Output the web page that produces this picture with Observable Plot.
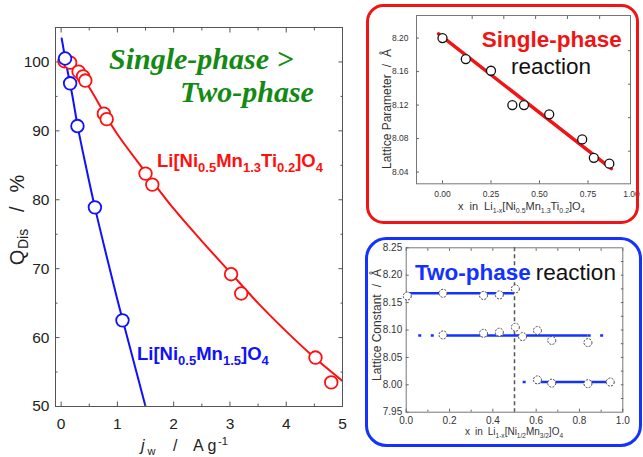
<!DOCTYPE html>
<html><head><meta charset="utf-8">
<script src="https://cdn.jsdelivr.net/npm/d3@7"></script>
<script src="https://cdn.jsdelivr.net/npm/@observablehq/plot@0.6"></script>
<style>
body{margin:0;background:#fff;}
#wrap{position:relative;width:643px;height:457px;overflow:hidden;background:#fff;font-family:"Liberation Sans",Arial,sans-serif;}
.p{position:absolute;}
.p svg{display:block;}
#ov{position:absolute;left:0;top:0;pointer-events:none;font-family:"Liberation Sans",Arial,sans-serif;}
</style></head><body><div id="wrap">
<div class="p" id="main" style="left:0;top:0"></div>
<div class="p" id="in1" style="left:362px;top:0"></div>
<div class="p" id="in2" style="left:365px;top:236px"></div>
<svg id="ov" width="643" height="457">
  <!-- inset boxes -->
  <rect x="367.5" y="5.5" width="270" height="217" rx="16" fill="none" stroke="#f01414" stroke-width="3"/>
  <rect x="366.5" y="238.5" width="274" height="207" rx="20" fill="none" stroke="#1432ff" stroke-width="3"/>
  <!-- main chart annotations -->
  <text x="109" y="69" font-family="'Liberation Serif','Times New Roman',serif" font-weight="bold" font-style="italic" font-size="30" fill="#138a13">Single-phase &gt;</text>
  <text x="180" y="102" font-family="'Liberation Serif','Times New Roman',serif" font-weight="bold" font-style="italic" font-size="30" fill="#138a13">Two-phase</text>
  <text x="157" y="167" font-size="18.5" font-weight="bold" fill="#ff1010">Li[Ni<tspan font-size="13" dy="4.5">0.5</tspan><tspan dy="-4.5">Mn</tspan><tspan font-size="13" dy="4.5">1.3</tspan><tspan dy="-4.5">Ti</tspan><tspan font-size="13" dy="4.5">0.2</tspan><tspan dy="-4.5">]O</tspan><tspan font-size="13" dy="4.5">4</tspan></text>
  <text x="137" y="360" font-size="18.5" font-weight="bold" fill="#1010ff">Li[Ni<tspan font-size="13" dy="4.5">0.5</tspan><tspan dy="-4.5">Mn</tspan><tspan font-size="13" dy="4.5">1.5</tspan><tspan dy="-4.5">]O</tspan><tspan font-size="13" dy="4.5">4</tspan></text>
  <text transform="translate(24,268) rotate(-90)" font-size="20" fill="#222"><tspan x="2.7">Q</tspan><tspan x="19" dy="4" font-size="14">Dis</tspan><tspan x="56" dy="-4">/</tspan><tspan x="75.6">%</tspan></text>
  <text y="451" font-size="16" fill="#222"><tspan x="141" font-style="italic">j</tspan><tspan x="147.5" dy="3.5" font-size="11">w</tspan><tspan x="173" dy="-3.5">/</tspan><tspan x="193">A</tspan><tspan x="207.5">g</tspan><tspan x="218" dy="-6.5" font-size="11">-1</tspan></text>
  <!-- inset 1 annotations -->
  <text x="481.7" y="46.7" font-size="22.5" font-weight="bold" fill="#f01414">Single-phase</text>
  <text x="511" y="74" font-size="22.5" fill="#111">reaction</text>
  <text transform="translate(391,109) rotate(-90)" text-anchor="middle" font-size="12" fill="#333">Lattice Parameter<tspan dx="7">/</tspan><tspan dx="7">Å</tspan></text>
  <text x="458" y="210" font-size="11" fill="#333">x<tspan dx="6">in</tspan><tspan dx="6">Li</tspan><tspan font-size="7" dy="2.5">1-x</tspan><tspan dy="-2.5">[Ni</tspan><tspan font-size="7" dy="2.5">0.5</tspan><tspan dy="-2.5">Mn</tspan><tspan font-size="7" dy="2.5">1.3</tspan><tspan dy="-2.5">Ti</tspan><tspan font-size="7" dy="2.5">0.2</tspan><tspan dy="-2.5">]O</tspan><tspan font-size="7" dy="2.5">4</tspan></text>
  <!-- inset 2 annotations -->
  <text x="415" y="280" font-size="22.5" font-weight="bold" fill="#1432ff">Two-phase<tspan font-weight="normal" fill="#111" dx="5">reaction</tspan></text>
  <text transform="translate(381,325) rotate(-90)" text-anchor="middle" font-size="12" fill="#333">Lattice Constant<tspan dx="7">/</tspan><tspan dx="7">Å</tspan></text>
  <text x="465" y="435" font-size="10" fill="#333">x<tspan dx="5">in</tspan><tspan dx="5">Li</tspan><tspan font-size="6.5" dy="2.5">1-x</tspan><tspan dy="-2.5">[Ni</tspan><tspan font-size="6.5" dy="2.5">1/2</tspan><tspan dy="-2.5">Mn</tspan><tspan font-size="6.5" dy="2.5">3/2</tspan><tspan dy="-2.5">]O</tspan><tspan font-size="6.5" dy="2.5">4</tspan></text>
</svg>
</div>
<script>
// ---------- Main chart data ----------
const redJ = [0.06, 0.16, 0.31, 0.39, 0.43, 0.76, 0.81, 1.50, 1.62, 3.02, 3.20, 4.52, 4.80];
const redQ = [100.1, 99.9, 98.6, 97.9, 97.3, 92.5, 91.7, 83.8, 82.2, 69.2, 66.4, 57.1, 53.5];
const blueJ = [0.07, 0.16, 0.29, 0.60, 1.09];
const blueQ = [100.5, 96.9, 90.7, 78.9, 62.5];
const redFitJ = [0, 0.25, 0.5, 0.75, 1, 1.5, 2, 2.5, 3, 3.5, 4, 4.5, 5];
const redFitQ = [100.6, 99.1, 96.3, 92.8, 89.5, 84.0, 78.7, 74.0, 69.5, 65.0, 60.9, 57.1, 53.7];
const blueFitJ = [0.01, 0.1, 0.2, 0.3, 0.45, 0.6, 0.8, 1.0, 1.2, 1.5];
const blueFitQ = [103.4, 99.3, 95.1, 90.4, 84.5, 78.9, 72.1, 65.5, 59.3, 50.0];
const mainXTicks = [0, 1, 2, 3, 4, 5];
const mainXMinor = [0.5, 1.5, 2.5, 3.5, 4.5];
const mainYTicks = [50, 60, 70, 80, 90, 100];
const mainYMinor = [55, 65, 75, 85, 95];

// ---------- Inset 1 (single-phase) data ----------
const lpX = [0.00, 0.12, 0.25, 0.36, 0.42, 0.55, 0.72, 0.78, 0.86];
const lpA = [8.200, 8.175, 8.161, 8.120, 8.120, 8.109, 8.079, 8.057, 8.050];
const lpFitX = [-0.02, 0.87];
const lpFitA = [8.205, 8.044];
const in1XTicks = [0, 0.25, 0.5, 0.75];
const in1XLastLabel = [1.0];
const in1YTicks = [8.04, 8.08, 8.12, 8.16, 8.20];
const in1RightTicks = [8.065, 8.105, 8.145, 8.185];
const in1TopTicks = [0.153, 0.316, 0.48, 0.644, 0.81];

// ---------- Inset 2 (two-phase) data ----------
const topX = [0.005, 0.17, 0.357, 0.43, 0.504];
const topA = [8.162, 8.167, 8.163, 8.164, 8.175];
const midX = [0.17, 0.357, 0.43, 0.504, 0.537, 0.606, 0.672, 0.839];
const midA = [8.091, 8.094, 8.096, 8.105, 8.088, 8.099, 8.081, 8.077];
const botX = [0.606, 0.672, 0.839, 0.942];
const botA = [8.009, 8.003, 8.002, 8.005];
const solidX1 = [0, 0.17, 0.606];
const solidX2 = [0.5, 0.84, 0.942];
const solidA = [8.167, 8.090, 8.005];
const dotX1 = [0.058, 0.84, 0.54];
const dotX2 = [0.17, 0.955, 0.606];
const dotA = [8.090, 8.090, 8.005];
const boundaryX = [0.5];
const in2XTicks = [0, 0.2, 0.4, 0.6, 0.8, 1.0];
const in2XMinor = [0.1, 0.3, 0.5, 0.7, 0.9];
const in2YTicks = [7.95, 8.00, 8.05, 8.10, 8.15, 8.20, 8.25];
const in2RightTicks = [7.975, 8.0, 8.025, 8.05, 8.075, 8.1, 8.125, 8.15, 8.175, 8.2, 8.225];

const zip = (xs, ys) => xs.map((x, i) => ({x, y: ys[i]}));
const none = () => "";
const RED = "#ff1010", BLUE = "#1010ff";

// ---------- Main chart ----------
const main = Plot.plot({
  width: 350, height: 457,
  marginLeft: 55, marginRight: 8, marginTop: 27, marginBottom: 51,
  x: {domain: [-0.1, 5]},
  y: {domain: [50, 105]},
  style: {fontFamily: '"Liberation Sans", Arial, sans-serif', fontSize: "15.5px", color: "#222", background: "transparent", overflow: "visible"},
  marks: [
    Plot.line(zip(redFitJ, redFitQ), {x: "x", y: "y", stroke: RED, strokeWidth: 2, curve: "catmull-rom", clip: true}),
    Plot.line(zip(blueFitJ, blueFitQ), {x: "x", y: "y", stroke: BLUE, strokeWidth: 2, curve: "catmull-rom", clip: true}),
    Plot.dot(zip(redJ, redQ), {x: "x", y: "y", r: 6.3, stroke: RED, strokeWidth: 1.8, fill: "white"}),
    Plot.dot(zip(blueJ, blueQ), {x: "x", y: "y", r: 6.3, stroke: BLUE, strokeWidth: 1.8, fill: "white"}),
    Plot.frame({stroke: "#555"}),
    Plot.axisX({ticks: mainXTicks, tickSize: -4.5, tickPadding: 15.5, tickFormat: d => String(d), label: null, stroke: "#555", fill: "#222"}),
    Plot.axisX({ticks: mainXMinor, tickSize: -2.5, tickPadding: 0, tickFormat: none, label: null, stroke: "#555"}),
    Plot.axisX({anchor: "top", ticks: mainXTicks, tickSize: -4.5, tickFormat: none, label: null, stroke: "#555"}),
    Plot.axisX({anchor: "top", ticks: mainXMinor, tickSize: -2.5, tickFormat: none, label: null, stroke: "#555"}),
    Plot.axisY({ticks: mainYTicks, tickSize: -4.5, tickPadding: 10.5, tickFormat: d => String(d), label: null, stroke: "#555", fill: "#222"}),
    Plot.axisY({ticks: mainYMinor, tickSize: -2.5, tickFormat: none, label: null, stroke: "#555"}),
    Plot.axisY({anchor: "right", ticks: mainYTicks, tickSize: -4.5, tickFormat: none, label: null, stroke: "#555"}),
    Plot.axisY({anchor: "right", ticks: mainYMinor, tickSize: -2.5, tickFormat: none, label: null, stroke: "#555"})
  ]
});
document.getElementById("main").appendChild(main);

// ---------- Inset 1 ----------
const f2 = d3.format(".2f");
const in1 = Plot.plot({
  width: 281, height: 225,
  marginLeft: 54, marginRight: 13, marginTop: 15, marginBottom: 41.7,
  x: {domain: [-0.134, 0.969]},
  y: {domain: [8.026, 8.227]},
  style: {fontFamily: '"Liberation Sans", Arial, sans-serif', fontSize: "8.5px", color: "#333", background: "transparent", overflow: "visible"},
  marks: [
    Plot.frame({stroke: "#777"}),
    Plot.line(zip(lpFitX, lpFitA), {x: "x", y: "y", stroke: "#f01414", strokeWidth: 3.5}),
    Plot.dot(zip(lpX, lpA), {x: "x", y: "y", r: 4.5, stroke: "#111", strokeWidth: 1.3, fill: "white"}),
    Plot.axisX({ticks: in1XTicks, tickSize: -3, tickPadding: 10, tickFormat: f2, label: null, stroke: "#666", fill: "#333"}),
    Plot.axisX({ticks: in1XLastLabel, tickSize: 0, tickPadding: 7, dx: -5, tickFormat: f2, label: null, fill: "#333"}),
    Plot.axisX({anchor: "top", ticks: in1TopTicks, tickSize: -3, tickFormat: none, label: null, stroke: "#666"}),
    Plot.axisY({ticks: in1YTicks, tickSize: -3, tickPadding: 11, tickFormat: f2, label: null, stroke: "#666", fill: "#333"}),
    Plot.axisY({anchor: "right", ticks: in1RightTicks, tickSize: -3, tickFormat: none, label: null, stroke: "#666"})
  ]
});
document.getElementById("in1").appendChild(in1);

// ---------- Inset 2 ----------
const f1 = d3.format(".1f");
const segs = (x1, x2, ys) => x1.map((v, i) => ({x1: v, x2: x2[i], y: ys[i]}));
const in2 = Plot.plot({
  width: 278, height: 212,
  marginLeft: 40.7, marginRight: 20.7, marginTop: 11.3, marginBottom: 36.3,
  x: {domain: [0, 1]},
  y: {domain: [7.95, 8.25]},
  style: {fontFamily: '"Liberation Sans", Arial, sans-serif', fontSize: "10px", color: "#333", background: "transparent", overflow: "visible"},
  marks: [
    Plot.frame({stroke: "#777"}),
    Plot.ruleX(boundaryX, {x: d => d, stroke: "#555", strokeWidth: 1.5, strokeDasharray: "4,3"}),
    Plot.ruleY(segs(solidX1, solidX2, solidA), {x1: "x1", x2: "x2", y: "y", stroke: "#1432ff", strokeWidth: 2.5}),
    Plot.ruleY(segs(dotX1, dotX2, dotA), {x1: "x1", x2: "x2", y: "y", stroke: "#1432ff", strokeWidth: 2.5, strokeDasharray: "3,9.5"}),
    Plot.dot(zip(topX, topA), {x: "x", y: "y", r: 4, stroke: "#444", strokeWidth: 1, strokeDasharray: "2,1.3", fill: "white"}),
    Plot.dot(zip(midX, midA), {x: "x", y: "y", r: 4, stroke: "#444", strokeWidth: 1, strokeDasharray: "2,1.3", fill: "white"}),
    Plot.dot(zip(botX, botA), {x: "x", y: "y", r: 4, stroke: "#444", strokeWidth: 1, strokeDasharray: "2,1.3", fill: "white"}),
    Plot.axisX({ticks: in2XTicks, tickSize: -3, tickPadding: 8, tickFormat: f1, label: null, stroke: "#666", fill: "#333"}),
    Plot.axisX({ticks: in2XMinor, tickSize: -2, tickFormat: none, label: null, stroke: "#666"}),
    Plot.axisX({anchor: "top", ticks: in2XMinor.concat(in2XTicks), tickSize: -2.5, tickFormat: none, label: null, stroke: "#666"}),
    Plot.axisY({ticks: in2YTicks, tickSize: -3, tickPadding: 7, tickFormat: f2, label: null, stroke: "#666", fill: "#333"}),
    Plot.axisY({anchor: "right", ticks: in2RightTicks, tickSize: -2.5, tickFormat: none, label: null, stroke: "#666"})
  ]
});
document.getElementById("in2").appendChild(in2);
</script></body></html>
